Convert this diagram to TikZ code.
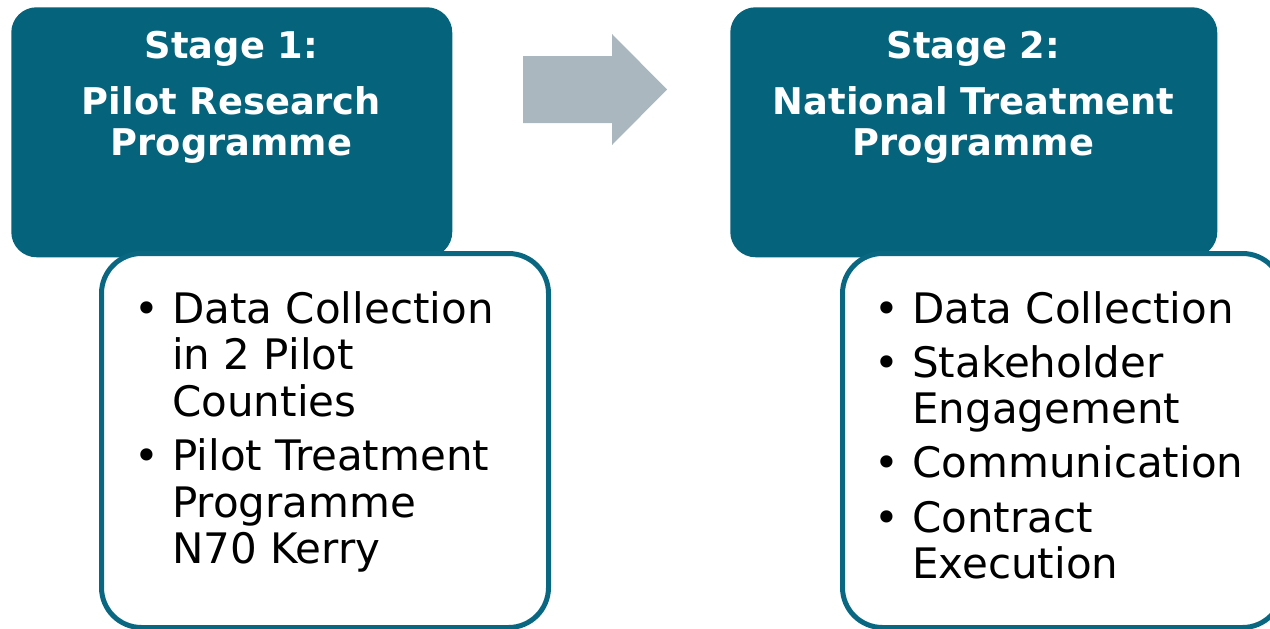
\documentclass[tikz,border=0pt]{standalone}
\usepackage{fontspec}
\setmainfont{DejaVu Sans}
\usetikzlibrary{positioning}
\definecolor{stageteal}{RGB}{6,99,124}
\definecolor{edgeteal}{RGB}{10,103,130}
\definecolor{arrowgrey}{RGB}{170,183,190}
\newcommand{\blt}{\makebox[37.5pt][c]{\textbullet}}

\begin{document}
\begin{tikzpicture}[x=0.75pt,y=-0.75pt]
	\tikzset{stagebox/.style={fill=stageteal,
				rectangle,
				rounded corners=19pt,
				inner sep=0pt,
				minimum height=187.5pt,
				anchor=north west},
			listbox/.style={draw=edgeteal,
				fill=white,
				line width=3.75pt,
				rectangle,
				rounded corners=30pt,
				inner sep=0pt,
				minimum height=280.5pt,
				anchor=north west},
			heading/.style={text=white,
				font=\fontsize{27.6}{30.75}\selectfont\bfseries,
				align=center,
				inner sep=0pt,
				anchor=base},
			points/.style={font=\fontsize{31.5}{35}\selectfont,
				inner sep=0pt,
				anchor=base west}}
	\useasboundingbox (0,0) rectangle (1270,628);

	% Stages
	\node[stagebox, minimum width=330.75pt] (stage1) at (11,7) {};
	\node[stagebox, minimum width=365.25pt] (stage2) at (730,7) {};
	\node[heading] (title1) at (231.5,155) {Stage 1:\\[11pt]Pilot Research\\Programme};
	\node[heading] (title2) at (973.5,155) {Stage 2:\\[11pt]National Treatment\\Programme};

	% Lists
	\node[listbox, minimum width=335.25pt] (list1) at (99,251) {};
	\node[listbox, minimum width=330pt] (list2) at (840,251) {};
	\node[points] (items1) at (122,323) {\begin{tabular}[t]{@{}l@{}l@{}}
		\blt & Data Collection\\
		     & in 2 Pilot\\
		     & Counties\\[5.6pt]
		\blt & Pilot Treatment\\
		     & Programme\\
		     & N70 Kerry
	\end{tabular}};
	\node[points] (items2) at (862,323) {\begin{tabular}[t]{@{}l@{}l@{}}
		\blt & Data Collection\\[5.6pt]
		\blt & Stakeholder\\
		     & Engagement\\[5.6pt]
		\blt & Communication\\[5.6pt]
		\blt & Contract\\
		     & Execution
	\end{tabular}};

	% Arrow
	\fill[arrowgrey] (523,56) -- (612,56) -- (612,34) -- (667,89.5) -- (612,145) -- (612,123) -- (523,123) -- cycle;
\end{tikzpicture}
\end{document}
